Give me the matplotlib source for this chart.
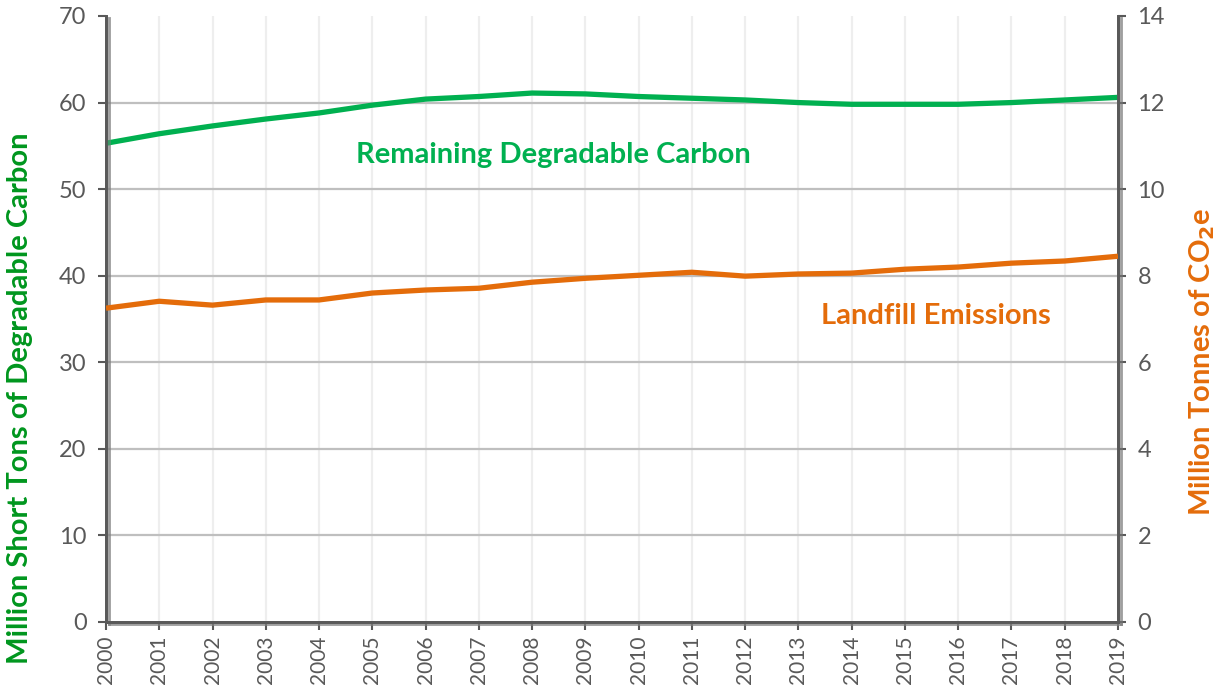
import matplotlib
matplotlib.use("Agg")
import matplotlib.pyplot as plt
import matplotlib.patheffects as pe

years = list(range(2000, 2020))
degradable_carbon = [55.3, 56.4, 57.3, 58.1, 58.8, 59.7, 60.4, 60.7, 61.1, 61.0,
                     60.7, 60.5, 60.3, 60.0, 59.8, 59.8, 59.8, 60.0, 60.3, 60.6]
landfill_emissions = [7.25, 7.41, 7.32, 7.44, 7.44, 7.60, 7.67, 7.71, 7.85, 7.94,
                      8.01, 8.08, 7.99, 8.04, 8.06, 8.15, 8.20, 8.29, 8.34, 8.45]
left_ticks = [0, 10, 20, 30, 40, 50, 60, 70]
right_ticks = [0, 2, 4, 6, 8, 10, 12, 14]

GREEN = "#00B050"
GREEN_DARK = "#00961E"
ORANGE = "#E46C0A"
AXIS = "#595959"
TICKC = "#595959"

plt.rcParams['font.family'] = ['Lato', 'DejaVu Sans']

fig = plt.figure(figsize=(12.28, 7), dpi=100)
ax = fig.add_axes([106/1228, 1-622/700, (1118-106)/1228, (622-16)/700])
ax2 = ax.twinx()

ax.set_xlim(2000, 2019)
ax.set_ylim(0, 70)
ax2.set_ylim(0, 14)

ax.set_yticks(left_ticks)
ax2.set_yticks(right_ticks)
ax.set_xticks(years)
ax.set_xticklabels([str(y) for y in years], rotation=90)

# grid
for y in left_ticks[1:-1]:
    ax.axhline(y, color="#BFBFBF", lw=1.6, zorder=1)
for x in years[1:-1]:
    ax.axvline(x, color="#EEEEEE", lw=1.6, zorder=0.5)

ax.plot(years, degradable_carbon, color=GREEN, lw=3.8, solid_joinstyle='round',
        solid_capstyle='butt', zorder=3)
ax2.plot(years, landfill_emissions, color=ORANGE, lw=3.8, solid_joinstyle='round',
         solid_capstyle='butt', zorder=3)

for a in (ax, ax2):
    a.spines['top'].set_visible(False)
    for s in ('left', 'right', 'bottom'):
        a.spines[s].set_color(AXIS)
        a.spines[s].set_linewidth(2)
        a.spines[s].set_path_effects([pe.SimpleLineShadow(offset=(2.5, -1.5), shadow_color='gray', alpha=0.5, rho=0.8), pe.Normal()])
    a.tick_params(axis='both', direction='out', length=6, width=1.5, color=AXIS,
                  labelcolor=TICKC)

ax.tick_params(axis='y', labelsize=17, pad=8)
ax2.tick_params(axis='y', labelsize=17, pad=8)
ax.tick_params(axis='x', labelsize=15, pad=4)

ax.set_ylabel("Million Short Tons of Degradable Carbon", color=GREEN_DARK,
              fontsize=21, fontweight='bold', va='center')
ax.yaxis.set_label_coords(-0.085, 0.37)
ax2.set_ylabel("Million Tonnes of CO$_\\mathbf{2}$e", color=ORANGE,
               fontsize=21, fontweight='bold', rotation=90, va='center')
ax2.yaxis.set_label_coords(1.083, 0.43)

ax.text(2008.39, 53.9, "Remaining Degradable Carbon", color=GREEN, fontsize=21,
        fontweight='bold', ha='center', va='center')
ax2.text(2015.58, 7.07, "Landfill Emissions", color=ORANGE, fontsize=21,
         fontweight='bold', ha='center', va='center')

fig.savefig("out.png", dpi=100)
